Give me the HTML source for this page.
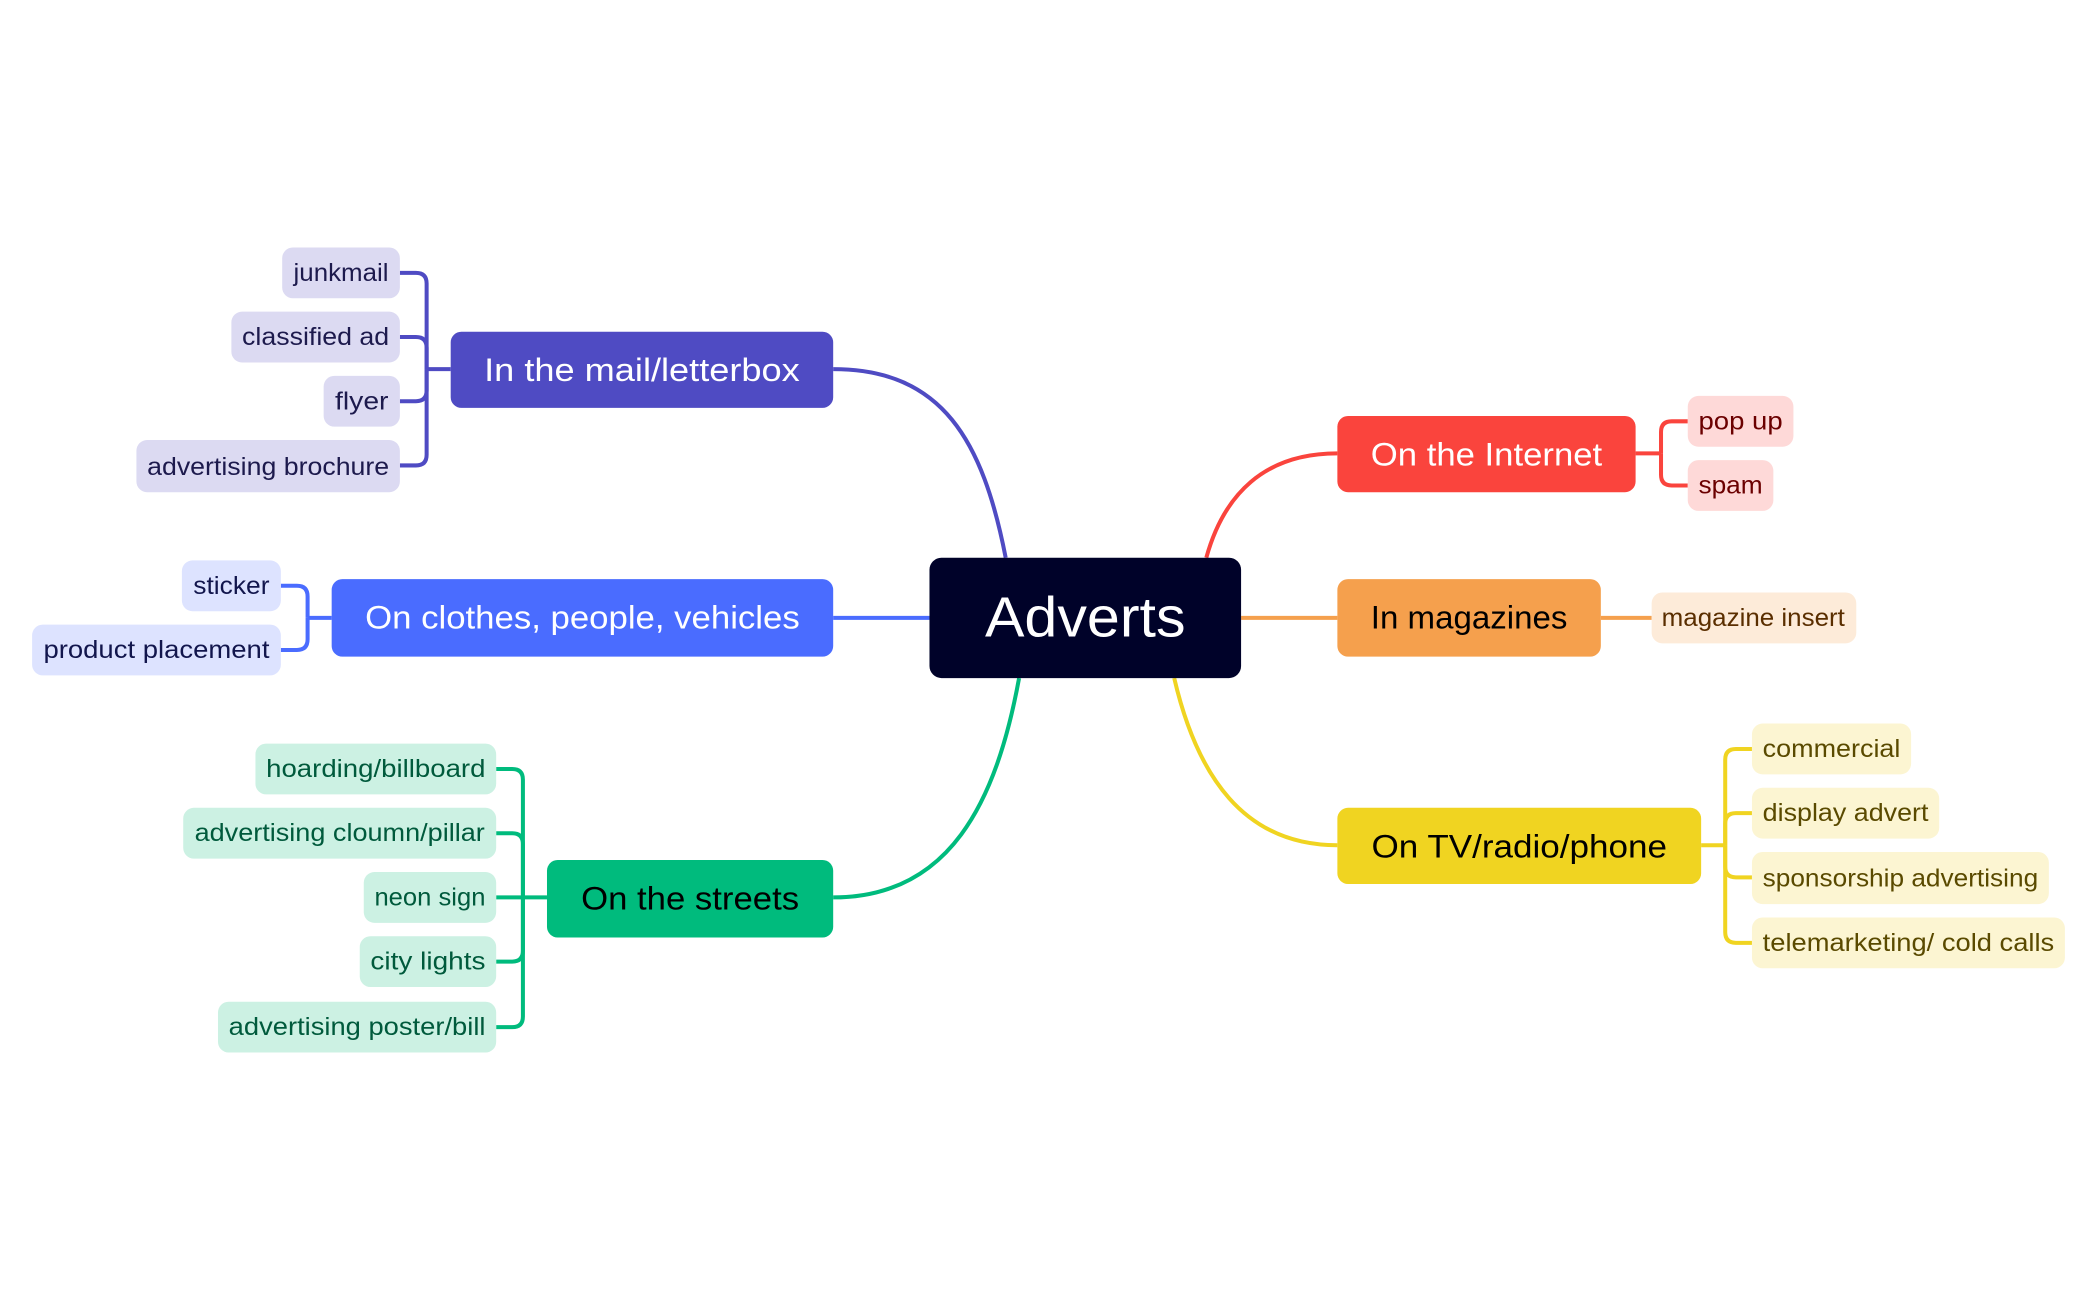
<!DOCTYPE html>
<html><head><meta charset="utf-8"><style>html,body{margin:0;padding:0;background:#fff}svg{display:block}text{font-family:"Liberation Sans",sans-serif}</style></head><body>
<svg width="2097" height="1300" viewBox="0 0 1568 972" xmlns="http://www.w3.org/2000/svg">
<g fill="none" stroke-width="3">
<path d="M752,417 C735,330 705,276 623,276" stroke="#4f4bc3"/>
<path d="M902,417 C915,370 945,339 1000,339" stroke="#fa443d"/>
<path d="M623,462 H695" stroke="#4a6cff"/>
<path d="M928,462 H1000" stroke="#f5a04d"/>
<path d="M762,507 C745,600 710,671 623,671" stroke="#00bb7d"/>
<path d="M878,507 C895,580 930,632 1000,632" stroke="#f0d421"/>
<g stroke="#4f4bc3"><path d="M337,276 H319"/>
<path d="M319,276 V212 Q319,204 311,204 H299"/><path d="M319,276 V260 Q319,252 311,252 H299"/><path d="M319,276 V292 Q319,300 311,300 H299"/><path d="M319,276 V340 Q319,348 311,348 H299"/></g>
<g stroke="#4a6cff"><path d="M248,462 H230"/><path d="M230,462 V446 Q230,438 222,438 H210"/><path d="M230,462 V478 Q230,486 222,486 H210"/></g>
<g stroke="#00bb7d"><path d="M409,671 H391"/>
<path d="M391,671 V583 Q391,575 383,575 H371"/><path d="M391,671 V631 Q391,623 383,623 H371"/><path d="M391,671 H371"/><path d="M391,671 V711 Q391,719 383,719 H371"/><path d="M391,671 V760 Q391,768 383,768 H371"/></g>
<g stroke="#fa443d"><path d="M1223,339 H1242"/><path d="M1242,339 V323 Q1242,315 1250,315 H1262"/><path d="M1242,339 V355 Q1242,363 1250,363 H1262"/></g>
<path d="M1197,462 H1235" stroke="#f5a04d"/>
<g stroke="#f0d421"><path d="M1272,632 H1290"/>
<path d="M1290,632 V568 Q1290,560 1298,560 H1310"/><path d="M1290,632 V616 Q1290,608 1298,608 H1310"/><path d="M1290,632 V648 Q1290,656 1298,656 H1310"/><path d="M1290,632 V697 Q1290,705 1298,705 H1310"/></g>
</g>
<!-- central -->
<rect x="695" y="417" width="233" height="90" rx="9" fill="#000229"/>
<text x="811.5" y="476" font-size="42" fill="#fff" text-anchor="middle" textLength="150" lengthAdjust="spacingAndGlyphs">Adverts</text>
<!-- branches -->
<g font-size="24" text-anchor="middle">
<rect x="337" y="248" width="286" height="57" rx="8" fill="#4f4bc3"/><text x="480" y="285" fill="#fff" textLength="236" lengthAdjust="spacingAndGlyphs">In the mail/letterbox</text>
<rect x="248" y="433" width="375" height="58" rx="8" fill="#4a6cff"/><text x="435.5" y="470" fill="#fff" textLength="325" lengthAdjust="spacingAndGlyphs">On clothes, people, vehicles</text>
<rect x="409" y="643" width="214" height="58" rx="8" fill="#00bb7d"/><text x="516" y="680" fill="#000" textLength="163" lengthAdjust="spacingAndGlyphs">On the streets</text>
<rect x="1000" y="311" width="223" height="57" rx="8" fill="#fa443d"/><text x="1111.5" y="348" fill="#fff" textLength="173" lengthAdjust="spacingAndGlyphs">On the Internet</text>
<rect x="1000" y="433" width="197" height="58" rx="8" fill="#f5a04d"/><text x="1098.5" y="470" fill="#000" textLength="147" lengthAdjust="spacingAndGlyphs">In magazines</text>
<rect x="1000" y="604" width="272" height="57" rx="8" fill="#f0d421"/><text x="1136" y="641" fill="#000" textLength="221" lengthAdjust="spacingAndGlyphs">On TV/radio/phone</text>
</g>
<!-- leaves -->
<g font-size="19" text-anchor="middle">
<g fill="#dcdaf2"><rect x="211" y="185" width="88" height="38" rx="8"/><rect x="173" y="233" width="126" height="38" rx="8"/><rect x="242" y="281" width="57" height="38" rx="8"/><rect x="102" y="329" width="197" height="39" rx="8"/></g>
<g fill="#1d1a4d"><text x="255" y="210" textLength="71" lengthAdjust="spacingAndGlyphs">junkmail</text><text x="236" y="258" textLength="110" lengthAdjust="spacingAndGlyphs">classified ad</text><text x="270.5" y="306" textLength="40" lengthAdjust="spacingAndGlyphs">flyer</text><text x="200.5" y="355" textLength="181" lengthAdjust="spacingAndGlyphs">advertising brochure</text></g>
<g fill="#dde3ff"><rect x="136" y="419" width="74" height="38" rx="8"/><rect x="24" y="467" width="186" height="38" rx="8"/></g>
<g fill="#12164d"><text x="173" y="444" textLength="57" lengthAdjust="spacingAndGlyphs">sticker</text><text x="117" y="492" textLength="169" lengthAdjust="spacingAndGlyphs">product placement</text></g>
<g fill="#ccf1e3"><rect x="191" y="556" width="180" height="38" rx="8"/><rect x="137" y="604" width="234" height="38" rx="8"/><rect x="272" y="652" width="99" height="38" rx="8"/><rect x="269" y="700" width="102" height="38" rx="8"/><rect x="163" y="749" width="208" height="38" rx="8"/></g>
<g fill="#005a3c"><text x="281" y="581" textLength="164" lengthAdjust="spacingAndGlyphs">hoarding/billboard</text><text x="254" y="629" textLength="217" lengthAdjust="spacingAndGlyphs">advertising cloumn/pillar</text><text x="321.5" y="677" textLength="83" lengthAdjust="spacingAndGlyphs">neon sign</text><text x="320" y="725" textLength="86" lengthAdjust="spacingAndGlyphs">city lights</text><text x="267" y="774" textLength="192" lengthAdjust="spacingAndGlyphs">advertising poster/bill</text></g>
<g fill="#fed9d8"><rect x="1262" y="296" width="79" height="38" rx="8"/><rect x="1262" y="344" width="64" height="38" rx="8"/></g>
<g fill="#6b0000"><text x="1301.5" y="321" textLength="63" lengthAdjust="spacingAndGlyphs">pop up</text><text x="1294" y="369" textLength="48" lengthAdjust="spacingAndGlyphs">spam</text></g>
<rect x="1235" y="443" width="153" height="38" rx="8" fill="#fdebd9"/><text x="1311" y="468" fill="#5a2e00" textLength="137" lengthAdjust="spacingAndGlyphs">magazine insert</text>
<g fill="#fcf5d2"><rect x="1310" y="541" width="119" height="38" rx="8"/><rect x="1310" y="589" width="140" height="38" rx="8"/><rect x="1310" y="637" width="222" height="39" rx="8"/><rect x="1310" y="686" width="234" height="38" rx="8"/></g>
<g fill="#5a4a00" text-anchor="start"><text x="1318" y="566" textLength="103" lengthAdjust="spacingAndGlyphs">commercial</text><text x="1318" y="614" textLength="124" lengthAdjust="spacingAndGlyphs">display advert</text><text x="1318" y="663" textLength="206" lengthAdjust="spacingAndGlyphs">sponsorship advertising</text><text x="1318" y="711" textLength="218" lengthAdjust="spacingAndGlyphs">telemarketing/ cold calls</text></g>
</g>
</svg>
</body></html>
